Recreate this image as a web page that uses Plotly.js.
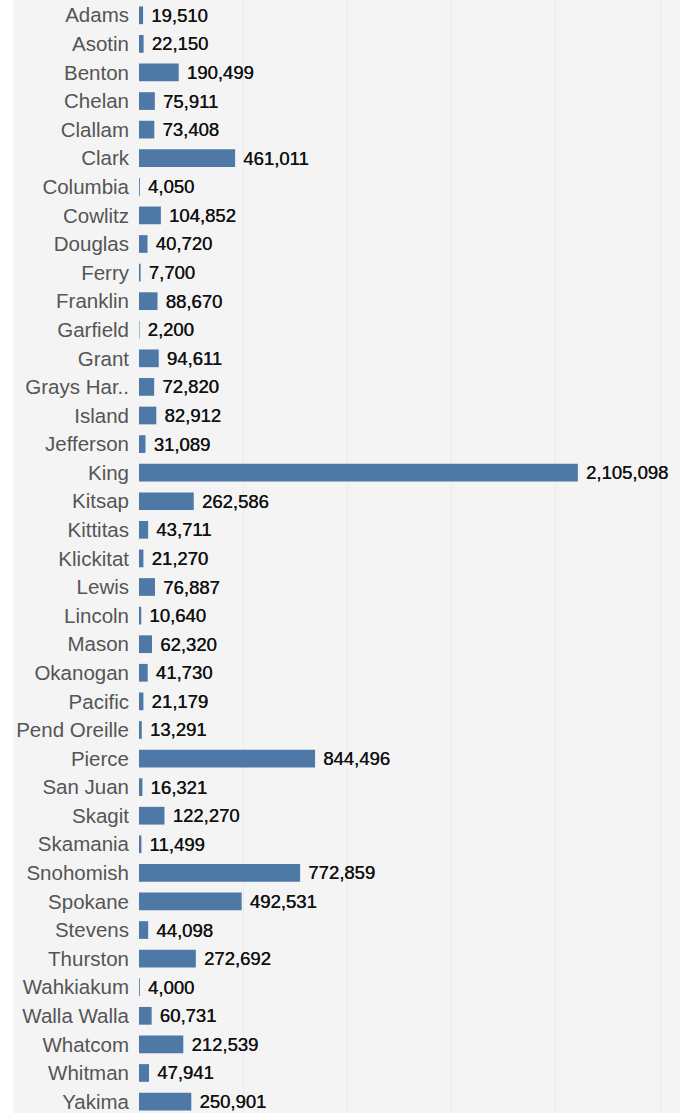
<!DOCTYPE html>
<html><head><meta charset="utf-8">
<script src="https://cdn.plot.ly/plotly-3.0.1.min.js"></script>
<style>html,body{margin:0;padding:0;background:#fff;}#chart{width:680px;height:1113px;}</style>
</head><body><div id="chart"></div>
<script>
const counties = ["Adams","Asotin","Benton","Chelan","Clallam","Clark","Columbia","Cowlitz","Douglas","Ferry","Franklin","Garfield","Grant","Grays Har..","Island","Jefferson","King","Kitsap","Kittitas","Klickitat","Lewis","Lincoln","Mason","Okanogan","Pacific","Pend Oreille","Pierce","San Juan","Skagit","Skamania","Snohomish","Spokane","Stevens","Thurston","Wahkiakum","Walla Walla","Whatcom","Whitman","Yakima"];
const population = [19510,22150,190499,75911,73408,461011,4050,104852,40720,7700,88670,2200,94611,72820,82912,31089,2105098,262586,43711,21270,76887,10640,62320,41730,21179,13291,844496,16321,122270,11499,772859,492531,44098,272692,4000,60731,212539,47941,250901];

const W = 680, L = 139;
const trace = {
  type: 'bar', orientation: 'h',
  y: counties, x: population,
  marker: {color: '#4e79a7'},
  width: 0.62,
  texttemplate: '\u00a0%{x:,}',
  textposition: 'outside',
  constraintext: 'none',
  cliponaxis: false,
  textfont: {family: 'Liberation Sans, Arial, sans-serif', size: 18.5, color: '#111', shadow: '0.3px 0 0 #111'},
  hoverinfo: 'none'
};
const layout = {
  width: W, height: 1113,
  margin: {l: L, r: 0, t: 1, b: 0},
  paper_bgcolor: '#ffffff',
  plot_bgcolor: 'rgba(0,0,0,0)',
  showlegend: false,
  bargap: 0.38,
  xaxis: {range: [0, 2595000], showticklabels: false, showgrid: true, gridcolor: '#e9e9e9', gridwidth: 1,
          dtick: 500000, zeroline: false, showline: false, ticks: '', fixedrange: true},
  yaxis: {type: 'category', range: [38.4, -0.5], showgrid: false, zeroline: false, showline: false, ticks: '',
          ticklabelstandoff: 9,
          tickfont: {family: 'Liberation Sans, Arial, sans-serif', size: 20.5, color: '#555'}},
  shapes: [{type: 'rect', xref: 'paper', yref: 'paper', x0: -(L-13)/(W-L), x1: 1, y0: 0, y1: 1.002,
            fillcolor: '#f4f4f4', line: {width: 0}, layer: 'below'}]
};
Plotly.newPlot('chart', [trace], layout, {staticPlot: true, displayModeBar: false});
</script></body></html>
